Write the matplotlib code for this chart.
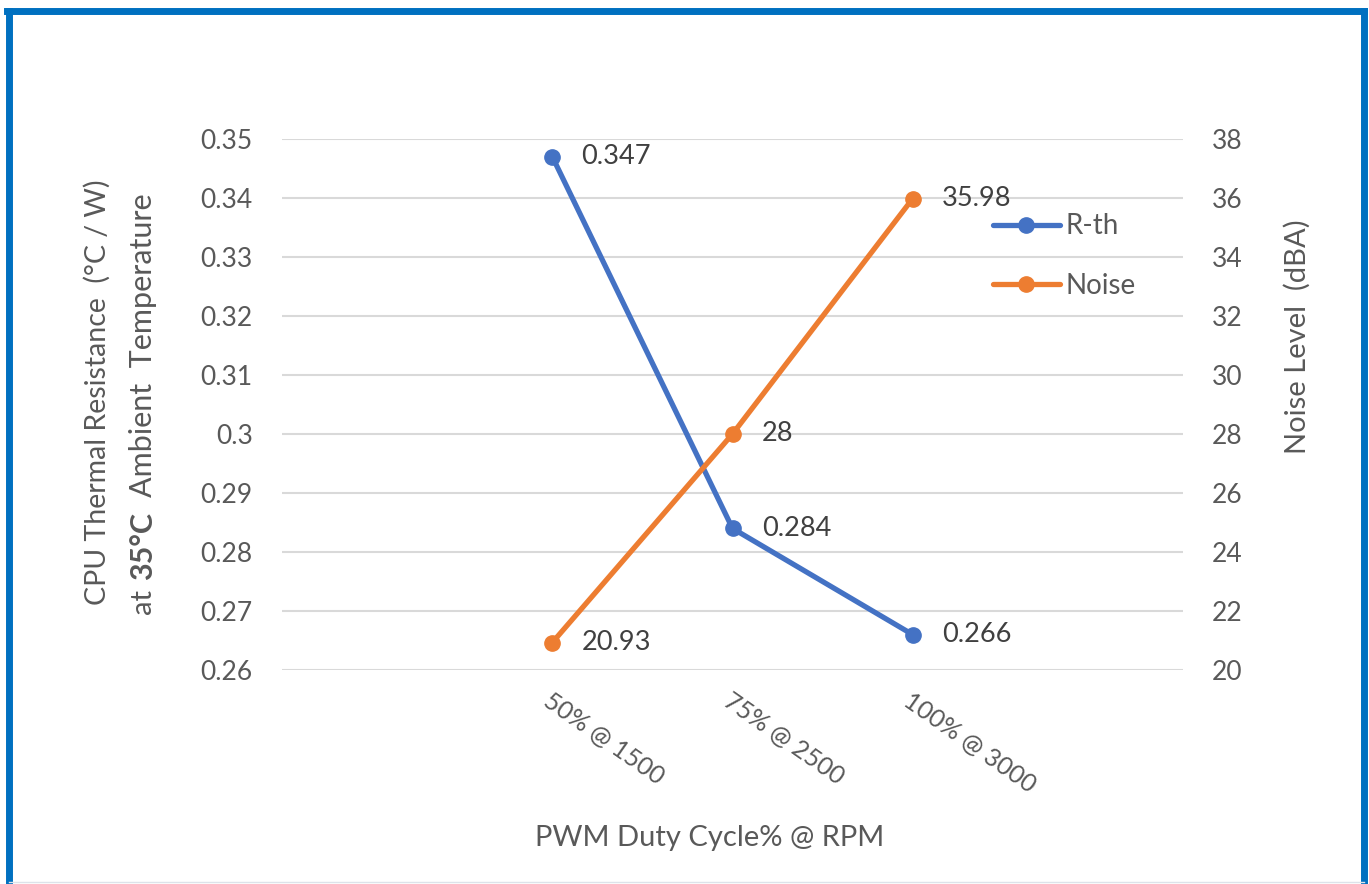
import matplotlib.pyplot as plt
from matplotlib.lines import Line2D
from matplotlib.ticker import FuncFormatter, MultipleLocator

# Data
categories = ['50% @ 1500', '75% @ 2500', '100% @ 3000']
r_th = [0.347, 0.284, 0.266]
noise = [20.93, 28, 35.98]

blue = '#4472C4'
orange = '#ED7D31'
grey = '#595959'

plt.rcParams['font.family'] = ['Lato', 'DejaVu Sans']
fs = 19        # tick labels
fs_lab = 19.5  # data labels
fs_t = 21      # axis titles

W, H = 1369, 884
fig = plt.figure(figsize=(W / 100, H / 100), dpi=100)


def px(x, y):
    return x / W, 1 - y / H


l, t = px(282, 139)
r, b = px(1183, 670)
ax = fig.add_axes([l, b, r - l, t - b])
ax2 = ax.twinx()

x = list(range(len(categories)))
ax.plot(x, r_th, color=blue, lw=3.8, marker='o', ms=11, label='R-th',
        solid_capstyle='round', zorder=3)
ax2.plot(x, noise, color=orange, lw=3.8, marker='o', ms=11, label='Noise',
         solid_capstyle='round', zorder=3)

for xi, v in zip(x, r_th):
    ax.annotate(f'{v:g}', (xi, v), xytext=(21, 0), textcoords='offset points',
                va='center', ha='left', fontsize=fs_lab, color='#404040')
for xi, v in zip(x, noise):
    ax2.annotate(f'{v:g}', (xi, v), xytext=(21, 0), textcoords='offset points',
                 va='center', ha='left', fontsize=fs_lab, color='#404040')

ax.set_xlim(-1.5, 3.5)
ax.set_ylim(0.26, 0.35)
ax.yaxis.set_major_locator(MultipleLocator(0.01))
ax.yaxis.set_major_formatter(FuncFormatter(lambda v, p: f'{round(v, 2):g}'))
ax2.set_ylim(20, 38)
ax2.yaxis.set_major_locator(MultipleLocator(2))

ax.grid(axis='y', color='#D9D9D9', lw=1.5)
ax.set_axisbelow(True)
for a in (ax, ax2):
    for s in a.spines.values():
        s.set_visible(False)
    a.tick_params(length=0, labelsize=fs, labelcolor=grey, pad=21)

ax.set_xticks(x)
ax.set_xticklabels(categories, rotation=-35, ha='left', va='top',
                   rotation_mode='anchor')
ax.tick_params(axis='x', pad=14, labelsize=18)

# axis titles
fig.text(*px(710, 838), 'PWM Duty Cycle% @ RPM', ha='center', va='center',
         fontsize=fs_t, color=grey)
fig.text(*px(1297, 337), 'Noise Level  (dBA)', ha='center', va='center',
         rotation=90, fontsize=fs_t, color=grey)
fig.text(*px(97, 392), 'CPU Thermal Resistance  (°C / W)', ha='center',
         va='center', rotation=90, fontsize=20.5, color=grey)
fig.text(*px(143, 614), 'at', ha='center', va='bottom', rotation=90,
         fontsize=fs_t, color=grey)
fig.text(*px(143, 580), '35°C', ha='center', va='bottom', rotation=90,
         fontsize=22, fontweight='bold', color=grey)
fig.text(*px(143, 497), 'Ambient  Temperature', ha='center', va='bottom',
         rotation=90, fontsize=22, color=grey)

# legend
h1, l1 = ax.get_legend_handles_labels()
h2, l2 = ax2.get_legend_handles_labels()
ax2.legend(h1 + h2, l1 + l2, loc='center left', frameon=False,
           bbox_to_anchor=px(979, 256), bbox_transform=fig.transFigure,
           fontsize=20, labelcolor=grey, handlelength=2.4, handletextpad=0.2,
           labelspacing=1.2, borderpad=0)

# frame
bc = '#0070C0'
fig.add_artist(Line2D([0.0065, 0.0065], [0, 0.9875], color=bc, lw=5,
                      transform=fig.transFigure))
fig.add_artist(Line2D([0.0048, 0.9965], [0.988, 0.988], color=bc, lw=5,
                      transform=fig.transFigure))
fig.add_artist(Line2D([0.9965, 0.9965], [0, 0.9875], color=bc, lw=5,
                      transform=fig.transFigure))
fig.add_artist(Line2D([0.0065, 0.9965], [0.002, 0.002], color='#DDE3EA', lw=1,
                      transform=fig.transFigure))

fig.savefig('out.png', dpi=100)
